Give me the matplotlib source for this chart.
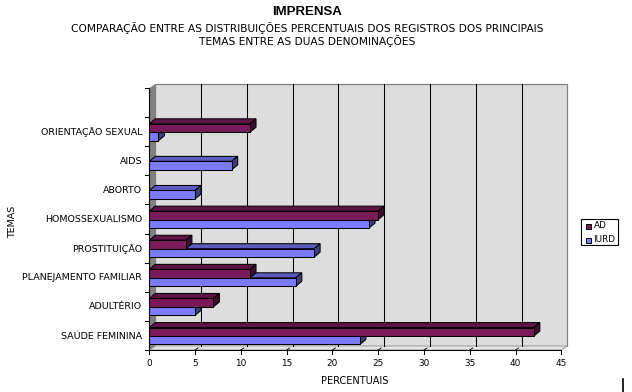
import matplotlib
matplotlib.use("Agg")
import matplotlib.pyplot as plt
from matplotlib.patches import Polygon, Rectangle
from matplotlib.lines import Line2D

categories = ["SAÚDE FEMININA", "ADULTÉRIO", "PLANEJAMENTO FAMILIAR", "PROSTITUIÇÃO",
              "HOMOSSEXUALISMO", "ABORTO", "AIDS", "ORIENTAÇÃO SEXUAL", ""]
ad_values = [42, 7, 11, 4, 25, 0, 0, 11, 0]
iurd_values = [23, 5, 16, 18, 24, 5, 9, 1, 0]
x_ticks = list(range(0, 50, 5))
title = "IMPRENSA"
subtitle1 = "COMPARAÇÃO ENTRE AS DISTRIBUIÇÕES PERCENTUAIS DOS REGISTROS DOS PRINCIPAIS"
subtitle2 = "TEMAS ENTRE AS DUAS DENOMINAÇÕES"

W, H = 632, 392
fig = plt.figure(figsize=(W / 100, H / 100), dpi=100, facecolor="white")
L, R, T, B = 149.3, 561.3, 88.0, 350.0
ax = fig.add_axes([L / W, 1 - B / H, (R - L) / W, (B - T) / H])
ax.set_xlim(0, 45)
ax.set_ylim(0, 9)
ax.axis("off")

DX = 6 / ((R - L) / 45)
DY = 4 / ((B - T) / 9)
BAR_DY = 5 / ((B - T) / 9)
BAR_H = 0.29
BASE = 0.19
LW = 0.75

def poly(pts, fc, ec="none", lw=0, z=1):
    ax.add_patch(Polygon(pts, closed=True, facecolor=fc, edgecolor=ec, linewidth=lw,
                         zorder=z, clip_on=False, joinstyle="miter"))

# walls
poly([(DX, DY), (45 + DX, DY), (45 + DX, 9 + DY), (DX, 9 + DY)], "#DDDDDD", "#808080", 0.9, 1)
poly([(0, 0), (DX, DY), (DX, 9 + DY), (0, 9)], "#808080", "none", 0, 1.2)
poly([(0, 0), (45, 0), (45 + DX, DY), (DX, DY)], "#E4E4E4", "#A0A0A0", 0.7, 1.1)

# grid lines on back wall and floor
for t in x_ticks[1:-1]:
    ax.add_line(Line2D([t + DX, t + DX], [DY, 9 + DY], color="black", lw=LW, zorder=1.5, clip_on=False))
    ax.add_line(Line2D([t, t + DX / 2], [0, DY / 2], color="black", lw=0.6, zorder=1.5, clip_on=False))

def bar3d(v, y0, front, top, side, z):
    if v <= 0:
        return
    y1 = y0 + BAR_H
    poly([(0, y1), (v, y1), (v + DX, y1 + BAR_DY), (DX, y1 + BAR_DY)], top, "black", LW, z)
    poly([(v, y0), (v + DX, y0 + BAR_DY), (v + DX, y1 + BAR_DY), (v, y1)], side, "black", LW, z)
    poly([(0, y0), (v, y0), (v, y1), (0, y1)], front, "black", LW, z + 0.1)

AD_C = ("#7B1A5A", "#5E1446", "#3F0D30")
IURD_C = ("#7B7BFF", "#5C5CBF", "#3E3E80")
for i in range(len(categories) - 1, -1, -1):
    bar3d(iurd_values[i], i + BASE, *IURD_C, z=3 + (8 - i))
    bar3d(ad_values[i], i + BASE + BAR_H, *AD_C, z=3.3 + (8 - i))

# axes and ticks
ax.add_line(Line2D([0, 45], [0, 0], color="black", lw=LW, zorder=20, clip_on=False))
ax.add_line(Line2D([0, 0], [0, 9], color="black", lw=LW, zorder=20, clip_on=False))
ppx = 45 / (R - L)
ppy = 9 / (B - T)
for t in x_ticks:
    ax.add_line(Line2D([t, t], [0, -4 * ppy], color="black", lw=LW, zorder=20, clip_on=False))
    ax.text(t, -13 * ppy, str(t), ha="center", va="center", fontsize=6.4,
            family="DejaVu Sans", clip_on=False)
for i in range(len(categories) + 1):
    ax.add_line(Line2D([0, -4 * ppx], [i, i], color="black", lw=LW, zorder=20, clip_on=False))
for i, c in enumerate(categories):
    ax.text(-7 * ppx, i + 0.48, c, ha="right", va="center", fontsize=6.8,
            family="DejaVu Sans", clip_on=False)

def ftext(x, y, s, **kw):
    kw.setdefault("family", "DejaVu Sans")
    fig.text(x / W, 1 - y / H, s, ha="center", va="center", **kw)

ftext(307, 12, title, fontsize=9.5, fontweight="bold", family="Liberation Sans")
ftext(307, 28, subtitle1, fontsize=7.7)
ftext(307, 41, subtitle2, fontsize=7.7)
ftext(355, 381, "PERCENTUAIS", fontsize=7.0)
ftext(13, 222, "TEMAS", fontsize=6.8, rotation=90)

# legend
fig.add_artist(Rectangle((581 / W, 1 - 245 / H), 37 / W, 26 / H, transform=fig.transFigure,
                         facecolor="white", edgecolor="black", linewidth=0.8))
for y, col, name in [(226, AD_C[0], "AD"), (240, IURD_C[0], "IURD")]:
    fig.add_artist(Rectangle((586 / W, 1 - (y + 2.5) / H), 5 / W, 5 / H, transform=fig.transFigure,
                             facecolor=col, edgecolor="black", linewidth=0.7))
    fig.text(593.5 / W, 1 - y / H, name, ha="left", va="center", fontsize=6.4, family="DejaVu Sans")

# stray mark at the bottom right of the reference
fig.add_artist(Line2D([623 / W, 623 / W], [0, 13 / H], color="black", lw=1.2, transform=fig.transFigure))

fig.savefig("out.png", dpi=100, facecolor="white")
